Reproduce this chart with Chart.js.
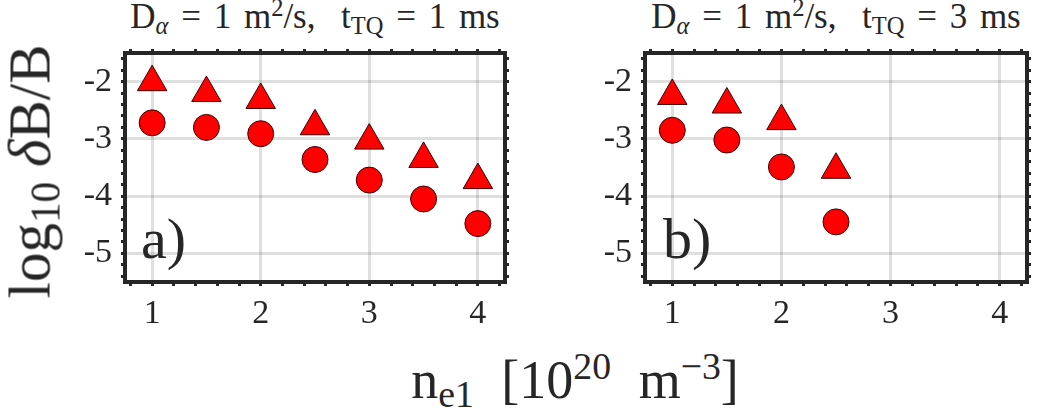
<!DOCTYPE html>
<html lang="en">
<head>
    <meta charset="UTF-8">
    <title>log10 dB/B vs density</title>
    <script src="https://cdn.jsdelivr.net/npm/chart.js"></script>
    <style>
        body {
            margin: 0;
            background: #ffffff;
        }
        #wrap {
            position: relative;
            width: 1040px;
            height: 416px;
            overflow: hidden;
            font-family: "Liberation Serif", serif;
            color: #262626;
        }
        canvas {
            position: absolute;
        }
        .txt {
            position: absolute;
            white-space: nowrap;
            line-height: 1;
        }
        .txt sub, .txt sup {
            font-size: 70%;
            line-height: 0;
        }
        .txt sub { vertical-align: -0.25em; }
        .txt sup { vertical-align: 0.5em; }
        .title {
            top: -1px;
            font-size: 35px;
            text-align: center;
            word-spacing: 4px;
        }
        .panel {
            font-size: 58px;
            top: 210px;
        }
        #ylab {
            font-size: 59px;
            width: 320px;
            left: -130px;
            top: 142px;
            text-align: center;
            transform: rotate(-90deg);
        }
        #xlab {
            font-size: 54px;
            width: 500px;
            left: 325px;
            top: 353px;
            text-align: center;
            word-spacing: 14px;
        }
    </style>
</head>
<body>
<div id="wrap">
    <canvas id="chartA" width="458" height="302" style="left:60px;top:40px"></canvas>
    <canvas id="chartB" width="460" height="302" style="left:580px;top:40px"></canvas>

    <div class="txt title" style="left:125px;width:380px">D<sub><i>α</i></sub> = 1 m<sup>2</sup>/s,&nbsp; t<sub>TQ</sub> = 1 ms</div>
    <div class="txt title" style="left:645px;width:382px">D<sub><i>α</i></sub> = 1 m<sup>2</sup>/s,&nbsp; t<sub>TQ</sub> = 3 ms</div>

    <div class="txt panel" style="left:141px">a)</div>
    <div class="txt panel" style="left:663px">b)</div>

    <div class="txt" id="ylab">log<sub>10</sub> <i>δ</i>B/B</div>
    <div class="txt" id="xlab">n<sub>e1</sub> [10<sup>20</sup> m<sup>−3</sup>]</div>
</div>
<script>
    // data
    const nA = [1, 1.5, 2, 2.5, 3, 3.5, 4];
    const triA = [-2.01, -2.20, -2.32, -2.78, -3.03, -3.35, -3.72];
    const cirA = [-2.72, -2.80, -2.91, -3.36, -3.72, -4.05, -4.48];

    const nB = [1, 1.5, 2, 2.5];
    const triB = [-2.25, -2.40, -2.69, -3.54];
    const cirB = [-2.85, -3.02, -3.49, -4.45];

    // axes
    const xRange = [0.75, 4.25];
    const yRange = [-5.5, -1.5];
    const xMajor = [1, 2, 3, 4];
    const yMajor = [-5, -4, -3, -2];
    const minorStep = 0.2;

    const ink = '#262626';
    const gridGray = 'rgba(38, 38, 38, 0.15)';
    const fontFam = '"Liberation Serif", serif';

    function tickList(range) {
        const out = [];
        const start = Math.ceil(range[0] / minorStep - 1e-9);
        const end = Math.floor(range[1] / minorStep + 1e-9);
        for (let i = start; i <= end; i++) {
            out.push({ value: Math.round(i * minorStep * 1000) / 1000 });
        }
        return out;
    }

    function isMajor(v, majors) {
        return majors.some(m => Math.abs(m - v) < 1e-6);
    }

    function axis(pos, range, majors, size, showLabels) {
        const horiz = pos === 'bottom' || pos === 'top';
        return {
            type: 'linear',
            position: pos,
            min: range[0],
            max: range[1],
            afterBuildTicks: s => { s.ticks = tickList(range); },
            afterFit: s => {
                if (horiz) s.height = size; else s.width = size;
                // fixed box, no overhang padding from the labels
                s.paddingTop = 0;
                s.paddingBottom = 0;
                s.paddingLeft = 0;
                s.paddingRight = 0;
            },
            ticks: {
                autoSkip: false,
                maxRotation: 0,
                padding: horiz ? 8 : 9,
                color: ink,
                font: { family: fontFam, size: 34 },
                callback: v => (showLabels && isMajor(v, majors)) ? String(Math.round(v)) : ''
            },
            grid: {
                drawOnChartArea: showLabels,
                color: c => (c.tick && isMajor(c.tick.value, majors)) ? gridGray : 'transparent',
                lineWidth: 3,
                tickColor: ink,
                tickLength: 4,
                tickWidth: 3
            },
            border: { display: true, color: ink, width: 4 }
        };
    }

    function makeChart(id, xs, tri, cir) {
        const ctx = document.getElementById(id).getContext('2d');
        return new Chart(ctx, {
            type: 'scatter',
            data: {
                datasets: [
                    {
                        label: 'circle',
                        data: xs.map((x, i) => ({ x: x, y: cir[i] })),
                        pointStyle: 'circle',
                        pointRadius: 13,
                        backgroundColor: '#ff0000',
                        borderColor: '#3a0000',
                        borderWidth: 1
                    },
                    {
                        label: 'triangle',
                        data: xs.map((x, i) => ({ x: x, y: tri[i] })),
                        pointStyle: 'triangle',
                        pointRadius: 17,
                        backgroundColor: '#ff0000',
                        borderColor: '#3a0000',
                        borderWidth: 1
                    }
                ]
            },
            options: {
                responsive: false,
                animation: false,
                clip: false,
                layout: { padding: 0, autoPadding: false },
                plugins: { legend: { display: false }, tooltip: { enabled: false } },
                scales: {
                    x: axis('bottom', xRange, xMajor, 60, true),
                    x2: axis('top', xRange, xMajor, 13, false),
                    y: axis('left', yRange, yMajor, 65, true),
                    y2: axis('right', yRange, yMajor, 13, false)
                }
            }
        });
    }

    makeChart('chartA', nA, triA, cirA);
    makeChart('chartB', nB, triB, cirB);
</script>
</body>
</html>
